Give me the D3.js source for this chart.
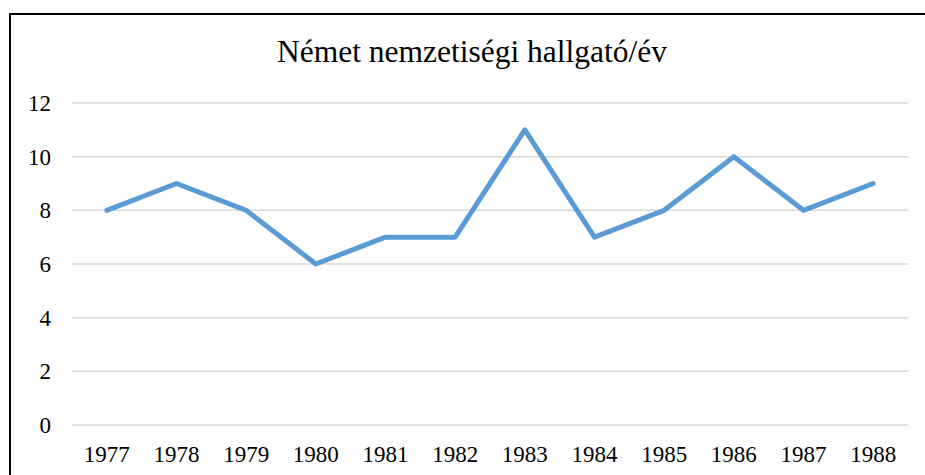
<!DOCTYPE html>
<html>
<head>
<meta charset="utf-8">
<script src="https://cdn.jsdelivr.net/npm/d3@7"></script>
<style>
  body { margin: 0; background: #fff; }
  svg { display: block; }
</style>
</head>
<body>
<div id="chart"></div>
<script>
const years = ["1977", "1978", "1979", "1980", "1981", "1982", "1983", "1984", "1985", "1986", "1987", "1988"];
const students = [8, 9, 8, 6, 7, 7, 11, 7, 8, 10, 8, 9];
const yTicks = [0, 2, 4, 6, 8, 10, 12];
const title = "Német nemzetiségi hallgató/év";

const width = 925, height = 475;
const font = "'Liberation Serif', 'Times New Roman', serif";

const svg = d3.select("#chart").append("svg")
    .attr("width", width)
    .attr("height", height);

// chart frame (right and bottom edges fall outside the picture)
svg.append("rect")
    .attr("x", 10).attr("y", 14)
    .attr("width", 930).attr("height", 480)
    .attr("fill", "none")
    .attr("stroke", "#000")
    .attr("stroke-width", 2);

let x = d3.scaleBand()
    .domain(years)
    .range([72, 908]);

let y = d3.scaleLinear()
    .domain([0, 12])
    .range([425, 103]);

// gridlines
svg.append("g")
    .selectAll("line")
    .data(yTicks)
    .join("line")
    .attr("x1", 72).attr("x2", 908)
    .attr("y1", d => y(d)).attr("y2", d => y(d))
    .attr("stroke", "#d9d9d9")
    .attr("stroke-width", 1.5);

// y labels
svg.append("g")
    .selectAll("text")
    .data(yTicks)
    .join("text")
    .attr("x", 51)
    .attr("y", d => y(d))
    .attr("dy", "0.35em")
    .attr("text-anchor", "end")
    .style("font-family", font)
    .style("font-size", "23px")
    .attr("fill", "#000")
    .text(d => d);

// x labels
svg.append("g")
    .selectAll("text")
    .data(years)
    .join("text")
    .attr("x", d => x(d) + x.bandwidth() / 2)
    .attr("y", 462)
    .attr("text-anchor", "middle")
    .style("font-family", font)
    .style("font-size", "23px")
    .attr("fill", "#000")
    .text(d => d);

// the line
let line = d3.line()
    .x((d, i) => x(years[i]) + x.bandwidth() / 2)
    .y(d => y(d));

svg.append("path")
    .datum(students)
    .attr("d", line)
    .attr("fill", "none")
    .attr("stroke", "#5b9bd5")
    .attr("stroke-width", 5)
    .attr("stroke-linejoin", "round")
    .attr("stroke-linecap", "round");

// title
svg.append("text")
    .attr("x", 472)
    .attr("y", 62)
    .attr("text-anchor", "middle")
    .style("font-family", font)
    .style("font-size", "31.5px")
    .attr("fill", "#000")
    .text(title);
</script>
</body>
</html>
